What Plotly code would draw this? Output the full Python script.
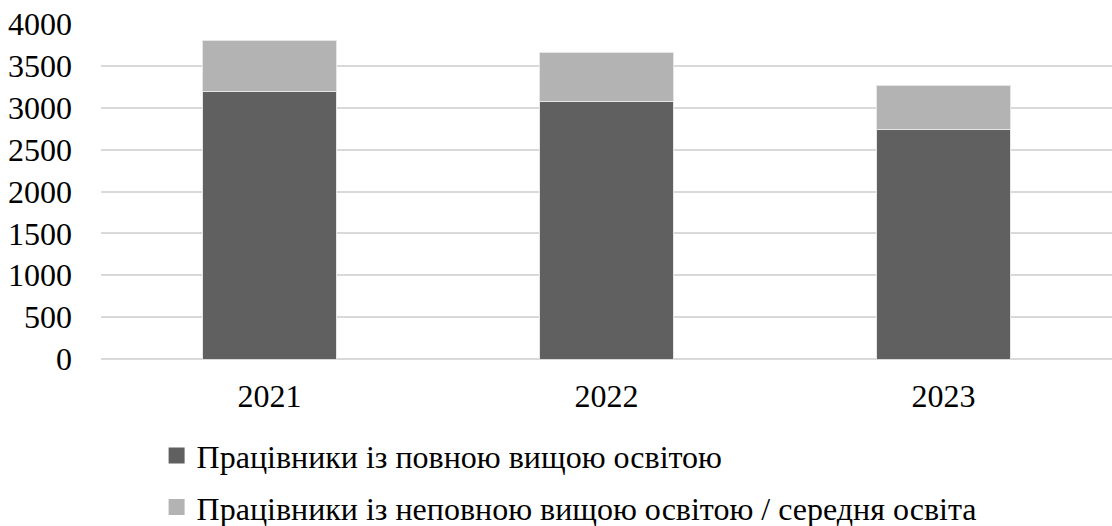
import plotly.graph_objects as go

years = ["2021", "2022", "2023"]
full_higher = [3190, 3070, 2740]
incomplete_higher = [610, 590, 520]
series_names = [
    "Працівники із повною вищою освітою",
    "Працівники із неповною вищою освітою / середня освіта",
]
colors = ["#606060", "#b3b3b3"]
y_ticks = [0, 500, 1000, 1500, 2000, 2500, 3000, 3500, 4000]

FONT = "Liberation Serif, Times New Roman, serif"

fig = go.Figure()
for i, (vals, name, col) in enumerate(zip([full_higher, incomplete_higher], series_names, colors)):
    fig.add_trace(go.Bar(
        x=years, y=vals, name=name, marker=dict(color=col, line=dict(color="#e6e6e6", width=1)),
        showlegend=False, legendgroup=f"g{i}",
    ))
    fig.add_trace(go.Scatter(
        x=[None], y=[None], mode="markers", name=name, legendgroup=f"g{i}",
        marker=dict(symbol="square", size=16, color=col),
        showlegend=True,
    ))

fig.update_layout(
    width=1112, height=526,
    barmode="stack", bargap=0.6,
    plot_bgcolor="white", paper_bgcolor="white",
    margin=dict(l=101, r=0, t=24, b=167, autoexpand=False),
    font=dict(family=FONT, size=32, color="black"),
    legend=dict(
        orientation="v", x=0.055, xanchor="left",
        yref="container", y=0.186, yanchor="top",
        font=dict(family=FONT, size=32, color="black"),
        itemsizing="trace", bgcolor="rgba(0,0,0,0)",
        traceorder="grouped", tracegroupgap=7,
    ),
    xaxis=dict(
        showline=False, ticks="", ticklabelstandoff=15,
        tickfont=dict(family=FONT, size=32, color="black"),
    ),
    yaxis=dict(
        range=[0, 4000], tickvals=y_ticks, showline=False,
        gridcolor="#d9d9d9", gridwidth=1.5,
        zeroline=True, zerolinecolor="#d9d9d9", zerolinewidth=1.5,
        ticks="", ticklabelstandoff=28,
        tickfont=dict(family=FONT, size=32, color="black"),
    ),
)

fig.write_html("out.html")
